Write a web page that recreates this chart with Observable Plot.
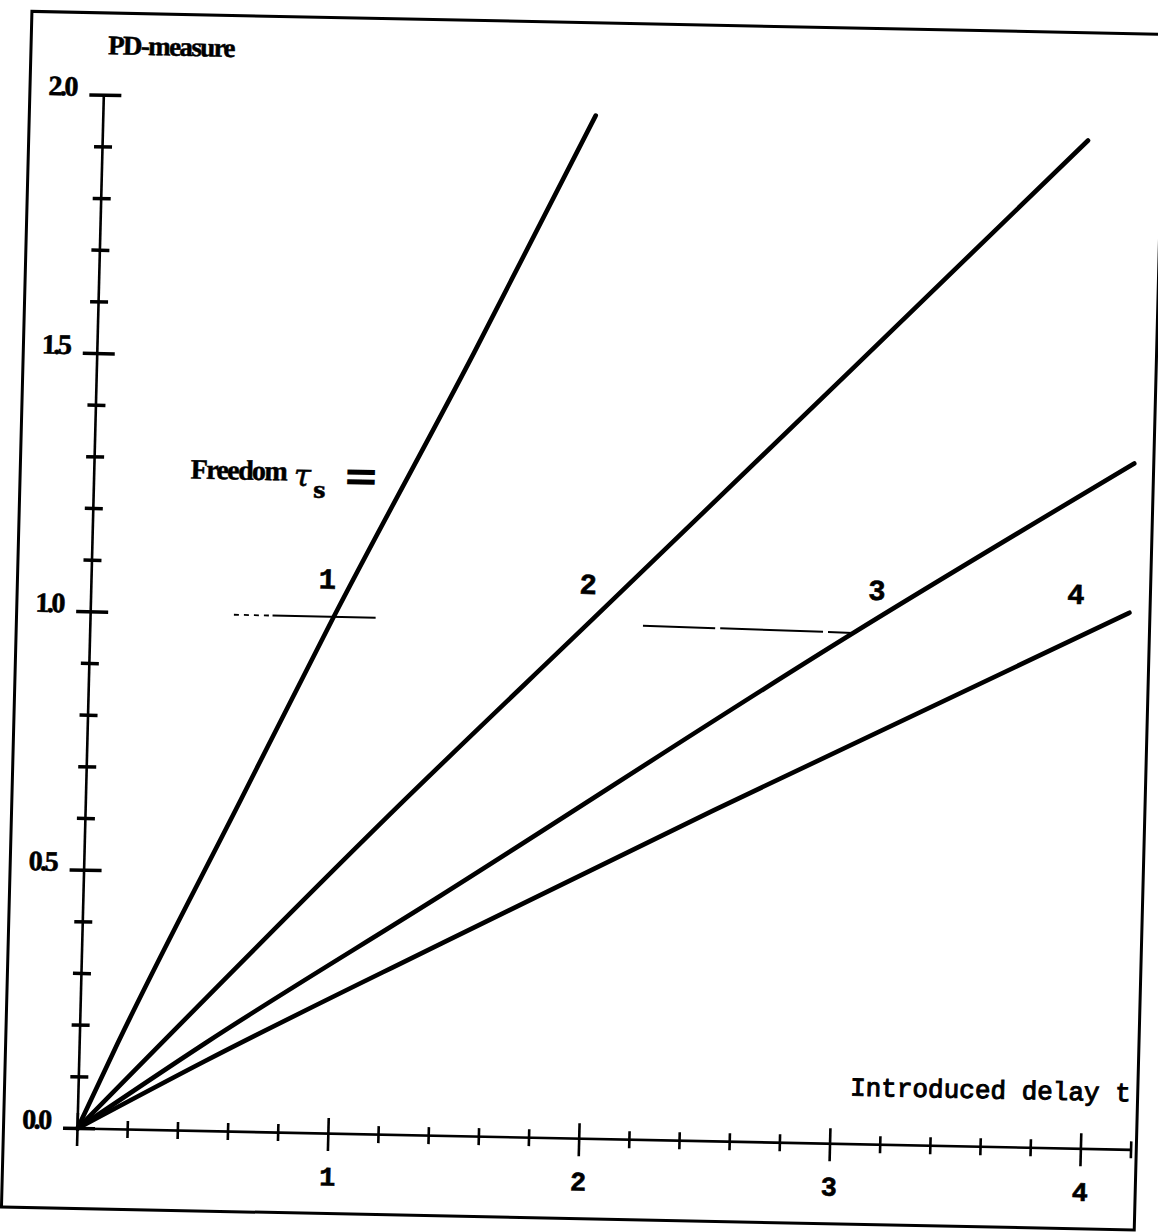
<!DOCTYPE html>
<html><head><meta charset="utf-8">
<script src="https://cdn.jsdelivr.net/npm/d3@7"></script>
<script src="https://cdn.jsdelivr.net/npm/@observablehq/plot@0.6"></script>
<style>
html,body{margin:0;padding:0;background:#fff;overflow:hidden;width:1158px;height:1232px;}
#chart svg{display:block;transform:matrix(0.9998,0.02025,-0.02548,0.99967,0,0);transform-origin:77px 1128px;}
g[font-family="Liberation Serif, serif"] text{letter-spacing:-2.5px;stroke:#000;stroke-width:0.6px;}
g[font-family="'Liberation Serif', Times, serif"] text{letter-spacing:-1.6px;stroke:#000;stroke-width:0.5px;}
g[font-family="'Liberation Mono', monospace"] text{stroke:#000;stroke-width:1px;}
g[font-family="Liberation Mono, monospace"] text{stroke:#000;stroke-width:0.6px;}
g[font-family="DejaVu Serif, serif"] text{stroke:#000;stroke-width:0.5px;}
</style></head><body><div id="chart"></div>
<script>
// ---- data ----
const tauValues = [1, 2, 3, 4];
const line1T  = [0, 0.15, 0.616, 0.969, 1.5, 1.962];
const line1PD = [0, 0.165, 0.641, 1.0, 1.515, 1.98];
const line2T  = [0, 1.267, 2, 3, 3.926];
const line2PD = [0, 0.647, 1.005, 1.495, 1.951];
const line3T  = [0, 0.5, 1.424, 3.031, 4.143];
const line3PD = [0, 0.17, 0.465, 0.986, 1.328];
const line4T  = [0, 0.5, 1.43, 2.5, 4.139];
const line4PD = [0, 0.135, 0.372, 0.64, 1.039];

const xMajorTicks = [0, 1, 2, 3, 4];
const xMinorTicks = [0.2,0.4,0.6,0.8,1.2,1.4,1.6,1.8,2.2,2.4,2.6,2.8,3.2,3.4,3.6,3.8,4.2];
const xTickLabels = ["1", "2", "3", "4"];
const xTickLabelValues = [1, 2, 3, 4];
const yMajorTicks = [0, 0.5, 1.0, 1.5, 2.0];
const yMinorTicks = [0.1,0.2,0.3,0.4,0.6,0.7,0.8,0.9,1.1,1.2,1.3,1.4,1.6,1.7,1.8,1.9];
const yTickLabels = ["0.0", "0.5", "1.0", "1.5", "2.0"];

// label anchors (t, PD) for the curve labels
const tauLabelT = [0.94, 1.98, 3.131, 3.924];
const tauLabelPD = 1.054;

// short reference segments at PD ≈ 1
const refX1 = [0.571, 0.725, 2.202, 2.51, 2.94];
const refX2 = [0.725, 1.136, 2.49, 2.92, 3.038];
const refY1 = [1.0, 1.0, 0.995, 0.993, 0.99];
const refY2 = [1.0, 1.0, 0.993, 0.99, 0.989];
const refDotted = [true, false, false, false, false];

// ---- layout ----
const W = 1158, H = 1232;
const mL = 3, mR = 22, mT = 12, mB = 24;
const xDomain = [-0.295, 4.2208], yDomain = [-0.1548, 2.1594];
const kx = (W - mL - mR) / (xDomain[1] - xDomain[0]);
const ky = (H - mT - mB) / (yDomain[1] - yDomain[0]);

const series = [[line1T, line1PD], [line2T, line2PD], [line3T, line3PD], [line4T, line4PD]];
const lineData = series.flatMap(([ts, ps], k) => ts.map((t, i) => ({tau: tauValues[k], t, pd: ps[i]})));
const refData = refX1.map((x1, i) => ({x1, x2: refX2[i], y1: refY1[i], y2: refY2[i], dotted: refDotted[i]}));

const serifBold = "'Liberation Serif', Times, serif";
const mono = "Liberation Mono, monospace";

const chart = Plot.plot({
  width: W, height: H,
  marginLeft: mL, marginRight: mR, marginTop: mT, marginBottom: mB,
  x: {domain: xDomain, axis: null},
  y: {domain: yDomain, axis: null},
  style: {background: "white", overflow: "visible"},
  marks: [
    Plot.frame({stroke: "#000", strokeWidth: 3}),
    // axes
    Plot.ruleY([0], {x1: 0, x2: 4.2, stroke: "#000", strokeWidth: 2.6}),
    Plot.ruleX([0], {y1: 0, y2: 2.0, stroke: "#000", strokeWidth: 2.6}),
    // x ticks
    Plot.ruleX(xMinorTicks, {x: d => d, y1: -9 / ky, y2: 8 / ky, stroke: "#000", strokeWidth: 2.6}),
    Plot.ruleX(xMajorTicks, {x: d => d, y1: -18 / ky, y2: 15 / ky, stroke: "#000", strokeWidth: 2.6}),
    // y ticks
    Plot.ruleY(yMinorTicks, {y: d => d, x1: -8 / kx, x2: 10 / kx, stroke: "#000", strokeWidth: 3.5}),
    Plot.ruleY(yMajorTicks, {y: d => d, x1: -14 / kx, x2: 18 / kx, stroke: "#000", strokeWidth: 3.5}),
    // tick labels
    Plot.text(yMajorTicks, {x: 0, y: d => d, text: (d, i) => yTickLabels[i], textAnchor: "end", lineAnchor: "bottom",
      dx: -28, dy: 1, fontSize: 28, fontWeight: "bold", fontFamily: "Liberation Serif, serif", fill: "#000"}),
    Plot.text(xTickLabelValues, {x: d => d, y: 0, text: (d, i) => xTickLabels[i], lineAnchor: "bottom",
      dy: 52, fontSize: 27, fontWeight: "bold", fontFamily: mono, fill: "#000"}),
    // reference segments
    Plot.link(refData.filter(d => d.dotted), {x1: "x1", x2: "x2", y1: "y1", y2: "y2", stroke: "#000", strokeWidth: 1.8, strokeDasharray: "5,5"}),
    Plot.link(refData.filter(d => !d.dotted), {x1: "x1", x2: "x2", y1: "y1", y2: "y2", stroke: "#000", strokeWidth: 2}),
    // curves
    Plot.line(lineData, {x: "t", y: "pd", z: "tau", stroke: "#000", strokeWidth: 4.6, curve: "monotone-x", strokeLinecap: "round"}),
    // curve labels
    Plot.text(tauValues, {x: (d, i) => tauLabelT[i], y: tauLabelPD, text: d => String(d), lineAnchor: "bottom",
      fontSize: 29, fontWeight: "bold", fontFamily: mono, fill: "#000"}),
    // titles
    Plot.text(["PD-measure"], {x: 0, y: 2.0, text: d => d, textAnchor: "start", lineAnchor: "bottom", dx: 3, dy: -41,
      fontSize: 27, fontWeight: "bold", fontFamily: serifBold, fill: "#000"}),
    Plot.text(["Freedom"], {x: 0.384, y: 1.262, text: d => d, textAnchor: "start", lineAnchor: "bottom",
      fontSize: 28, fontWeight: "bold", fontFamily: serifBold, fill: "#000"}),
    Plot.text(["τ"], {x: 0.795, y: 1.252, text: d => d, textAnchor: "start", lineAnchor: "bottom",
      fontSize: 31, fontStyle: "italic", fontFamily: "DejaVu Serif, serif", fill: "#000"}),
    Plot.text(["s"], {x: 0.874, y: 1.23, text: d => d, textAnchor: "start", lineAnchor: "bottom",
      fontSize: 22, fontWeight: "bold", fontFamily: "DejaVu Serif, serif", fill: "#000"}),
    Plot.text(["="], {x: 0.99, y: 1.26, text: d => d, textAnchor: "start", lineAnchor: "bottom",
      fontSize: 44, fontWeight: "bold", fontFamily: "DejaVu Sans", fill: "#000", dy: 8}),
    Plot.text(["Introduced delay t"], {x: 4.193, y: 0.094, text: d => d, textAnchor: "end", lineAnchor: "bottom",
      fontSize: 26, fontFamily: "'Liberation Mono', monospace", fill: "#000"})
  ]
});
document.getElementById("chart").appendChild(chart);
</script></body></html>
